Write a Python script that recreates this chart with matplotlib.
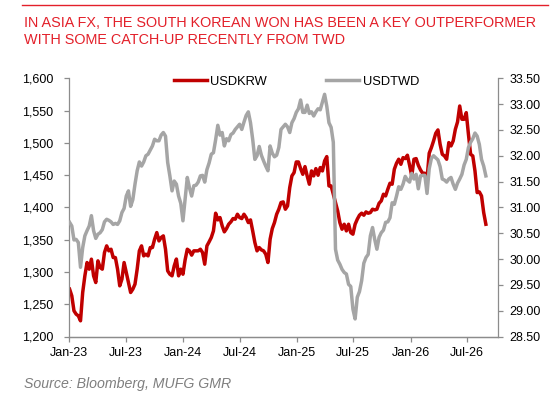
import matplotlib
matplotlib.use("Agg")
import matplotlib.pyplot as plt
import matplotlib.dates as mdates
import matplotlib.ticker as mticker
import pandas as pd

############################################################################################################
# data: weekly readings, first week 2023-01-02
############################################################################################################

start_date = "2023-01-02"

usdkrw = [
    1273.3, 1263.0, 1239.8, 1234.6, 1232.0, 1224.3, 1268.2, 1294.0, 1314.6, 1304.3,
    1319.8, 1294.0, 1283.6, 1317.2, 1306.9, 1304.3, 1330.1, 1340.4, 1332.7, 1335.2,
    1322.3, 1322.3, 1304.3, 1278.5, 1288.8, 1314.6, 1299.1, 1283.6, 1268.2, 1273.3,
    1281.1, 1304.3, 1332.7, 1340.4, 1324.9, 1327.5, 1324.9, 1337.8, 1337.8, 1350.7,
    1361.0, 1348.1, 1353.3, 1355.9, 1335.2, 1301.7, 1296.5, 1294.0, 1309.4, 1320.0,
    1294.0, 1304.3, 1296.5, 1318.7, 1335.2, 1332.7, 1326.0, 1332.7, 1332.7, 1332.7,
    1335.2, 1330.1, 1312.0, 1340.4, 1346.6, 1353.3, 1363.6, 1391.0, 1380.6, 1384.3,
    1371.4, 1362.1, 1367.2, 1374.0, 1377.6, 1382.7, 1381.7, 1389.4, 1384.3, 1382.7,
    1389.4, 1384.3, 1376.5, 1380.6, 1363.6, 1345.6, 1332.7, 1337.8, 1334.2, 1332.7,
    1327.5, 1314.6, 1350.7, 1367.2, 1376.5, 1389.4, 1397.2, 1407.5, 1408.5, 1397.2,
    1402.3, 1430.7, 1448.8, 1453.9, 1470.4, 1470.4, 1460.1, 1451.3, 1463.2, 1448.8,
    1435.9, 1456.5, 1448.8, 1460.1, 1449.8, 1461.7, 1456.5, 1472.0, 1478.7, 1433.3,
    1433.3, 1420.4, 1407.5, 1394.6, 1376.5, 1366.2, 1373.9, 1363.6, 1373.9, 1361.0,
    1358.5, 1373.9, 1381.7, 1387.9, 1391.0, 1387.9, 1393.0, 1391.0, 1392.0, 1397.2,
    1396.1, 1397.2, 1406.4, 1410.1, 1420.4, 1417.8, 1428.1, 1437.4, 1435.9, 1459.1,
    1468.4, 1474.6, 1466.8, 1477.1, 1475.6, 1480.8, 1465.3, 1448.8, 1474.6, 1475.6,
    1465.3, 1458.1, 1452.9, 1452.9, 1443.6, 1483.9, 1492.6, 1503.0, 1514.8, 1520.0,
    1497.8, 1482.3, 1479.7, 1474.6, 1500.4, 1495.2, 1503.0, 1521.0, 1532.4, 1557.1,
    1536.5, 1536.5, 1546.8, 1513.3, 1482.3, 1479.7, 1456.5, 1423.0, 1424.0, 1417.8,
    1392.0, 1373.9,
]

usdtwd = [
    30.71, 30.64, 30.37, 30.38, 30.32, 29.84, 30.22, 30.45, 30.55, 30.64,
    30.84, 30.55, 30.40, 30.48, 30.51, 30.57, 30.72, 30.77, 30.75, 30.72,
    30.67, 30.69, 30.67, 30.74, 30.90, 30.98, 31.22, 31.32, 31.02, 31.15,
    31.45, 31.71, 31.88, 31.80, 31.88, 32.00, 32.03, 32.11, 32.19, 32.32,
    32.29, 32.29, 32.40, 32.45, 32.38, 31.87, 31.61, 31.32, 31.51, 31.45,
    31.22, 31.08, 30.74, 31.16, 31.58, 31.38, 31.22, 31.42, 31.43, 31.49,
    31.61, 31.62, 31.49, 31.73, 31.86, 32.03, 32.06, 32.31, 32.59, 32.40,
    32.45, 32.19, 32.33, 32.29, 32.41, 32.44, 32.51, 32.56, 32.61, 32.51,
    32.65, 32.78, 32.85, 32.64, 32.32, 31.93, 32.00, 32.18, 32.01, 31.90,
    31.80, 31.71, 32.19, 32.05, 31.98, 32.01, 32.16, 32.51, 32.56, 32.61,
    32.56, 32.45, 32.64, 32.72, 32.84, 32.91, 33.08, 32.84, 32.84, 32.98,
    32.82, 32.85, 32.77, 32.85, 32.91, 32.89, 33.04, 33.19, 32.96, 32.64,
    32.55, 32.26, 30.19, 29.98, 29.90, 29.80, 29.74, 29.71, 29.51, 29.47,
    29.03, 28.84, 29.26, 29.37, 29.58, 29.92, 30.03, 30.09, 30.45, 30.61,
    30.38, 30.19, 30.42, 30.51, 30.56, 30.71, 30.72, 30.80, 31.09, 31.06,
    31.22, 31.40, 31.35, 31.45, 31.60, 31.53, 31.49, 31.66, 31.55, 31.64,
    31.36, 31.61, 31.62, 31.62, 31.27, 31.75, 31.95, 32.00, 31.96, 31.92,
    31.79, 31.55, 31.53, 31.49, 31.55, 31.58, 31.45, 31.35, 31.47, 31.55,
    31.64, 31.82, 31.93, 32.16, 32.26, 32.33, 32.44, 32.38, 32.22, 31.93,
    31.80, 31.61,
]

title_lines = ["IN ASIA FX, THE SOUTH KOREAN WON HAS BEEN A KEY OUTPERFORMER",
               "WITH SOME CATCH-UP RECENTLY FROM TWD"]
source_text = "Source: Bloomberg, MUFG GMR"

############################################################################################################

plt.rcParams['font.family'] = ['Liberation Sans', 'DejaVu Sans']

W, H = 558, 401
red_line = "#C00000"
grey_line = "#A5A5A5"
title_red = "#E3202A"
axis_grey = "#8C8C8C"

dates = pd.date_range(start_date, periods=len(usdkrw), freq="7D")

fig = plt.figure(figsize=(W / 100, H / 100), dpi=100, facecolor='w')
ax = fig.add_axes([69.3 / W, 1 - 336.5 / H, (497.7 - 69.3) / W, (336.5 - 78.3) / H])
ax2 = ax.twinx()

ax.plot(dates, usdkrw, color=red_line, lw=2.5, label="USDKRW", solid_joinstyle='round')
ax2.plot(dates, usdtwd, color=grey_line, lw=2.5, label="USDTWD", solid_joinstyle='round')

ax.set_xlim(pd.Timestamp("2023-01-01"), pd.Timestamp("2026-10-08"))
ax.set_ylim(1200, 1600)
ax2.set_ylim(28.5, 33.5)

ax.xaxis.set_major_locator(mdates.MonthLocator(bymonth=[1, 7]))
ax.xaxis.set_major_formatter(mdates.DateFormatter("%b-%y"))
ax.yaxis.set_major_locator(mticker.MultipleLocator(50))
ax.yaxis.set_major_formatter(mticker.FuncFormatter(lambda v, p: "{:,.0f}".format(v)))
ax2.yaxis.set_major_locator(mticker.MultipleLocator(0.5))
ax2.yaxis.set_major_formatter(mticker.FormatStrFormatter("%.2f"))

for a in (ax, ax2):
    a.spines["top"].set_visible(False)
    for side in ("left", "right", "bottom"):
        a.spines[side].set_color(axis_grey)
        a.spines[side].set_linewidth(0.9)
    a.tick_params(colors=axis_grey, labelcolor="black", labelsize=9, length=3.5, width=0.9)
ax.spines["right"].set_visible(False)
ax2.spines["left"].set_visible(False)
ax.tick_params(axis="y", pad=8)
ax.tick_params(axis="x", pad=4)
ax2.tick_params(axis="y", pad=5)

handles = ax.get_lines() + ax2.get_lines()
fig.legend(handles, [h.get_label() for h in handles], loc="center left",
           bbox_to_anchor=(174 / W, 1 - 82 / H), ncol=2, frameon=False, fontsize=9.3,
           borderpad=0, borderaxespad=0, handlelength=2.55, handletextpad=0.25,
           columnspacing=4.6)

# red rule, title and source
fig.add_artist(plt.Line2D([22 / W, 548 / W], [1 - 5 / H, 1 - 5 / H], color=title_red, lw=1.0))
fig.text(24.5 / W, 1 - 23.3 / H, title_lines[0], color=title_red, fontsize=10.4, va="center")
fig.text(24.5 / W, 1 - 40.3 / H, title_lines[1], color=title_red, fontsize=10.4, va="center")
fig.text(24.5 / W, 1 - 384 / H, source_text, color="#7F7F7F", fontsize=10.2, style="italic", va="center")

plt.savefig("out.png", dpi=100)
plt.close(fig)
